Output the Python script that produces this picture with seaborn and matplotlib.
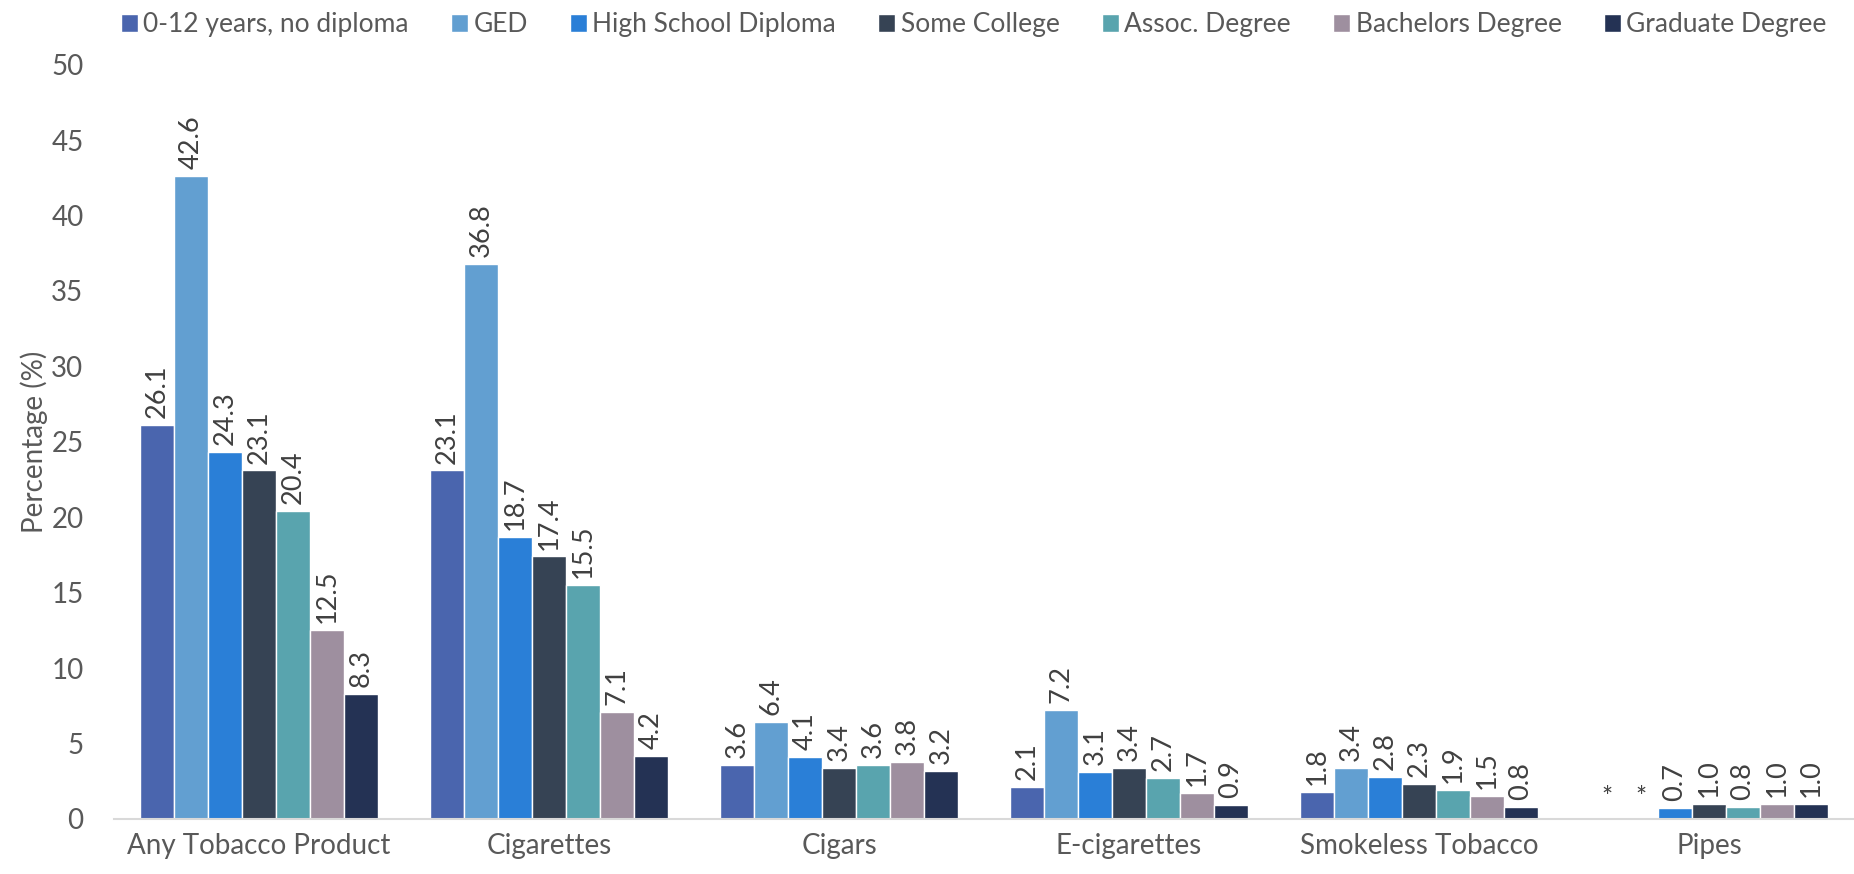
import numpy as np
import pandas as pd
import matplotlib
matplotlib.use("Agg")
import matplotlib.pyplot as plt
import seaborn as sns

products = ["Any Tobacco Product", "Cigarettes", "Cigars", "E-cigarettes",
            "Smokeless Tobacco", "Pipes"]
education = ["0-12 years, no diploma", "GED", "High School Diploma", "Some College",
             "Assoc. Degree", "Bachelors Degree", "Graduate Degree"]

no_diploma = [26.1, 23.1, 3.6, 2.1, 1.8, np.nan]
ged = [42.6, 36.8, 6.4, 7.2, 3.4, np.nan]
hs_diploma = [24.3, 18.7, 4.1, 3.1, 2.8, 0.7]
some_college = [23.1, 17.4, 3.4, 3.4, 2.3, 1.0]
assoc = [20.4, 15.5, 3.6, 2.7, 1.9, 0.8]
bachelors = [12.5, 7.1, 3.8, 1.7, 1.5, 1.0]
graduate = [8.3, 4.2, 3.2, 0.9, 0.8, 1.0]

colors = ["#4A65AE", "#629FD1", "#2A7FD7", "#364354", "#59A4AE", "#9E8F9F", "#243254"]

series = [no_diploma, ged, hs_diploma, some_college, assoc, bachelors, graduate]
rows = []
for level, vals in zip(education, series):
    for prod, v in zip(products, vals):
        rows.append({"product": prod, "education": level, "value": v,
                     "shown": 0.0 if np.isnan(v) else v})
df = pd.DataFrame(rows)

sns.set_theme(style="white")
plt.rcParams["font.family"] = ["Lato", "DejaVu Sans"]
text_col = "#595959"

fig = plt.figure(figsize=(18.54, 8.74), dpi=100)
ax = fig.add_axes([0.0615, 0.063, 0.9385, 0.863])

sns.barplot(data=df, x="product", y="shown", hue="education", order=products,
            hue_order=education, palette=colors, width=0.82, gap=0,
            saturation=1, errorbar=None, ax=ax, legend=True)

# value labels above each bar; missing estimates marked with an asterisk
for level, container in zip(education, ax.containers):
    vals = df[df["education"] == level].set_index("product").loc[products, "value"].values
    for bar, v in zip(container, vals):
        cx = bar.get_x() + bar.get_width() / 2
        if np.isnan(v):
            ax.annotate("*", (cx, 0), xytext=(0, 6), textcoords="offset points",
                        ha="center", va="bottom", fontsize=19, color="#404040")
        else:
            ax.annotate(f"{v:.1f}", (cx, bar.get_height()), xytext=(0, 5),
                        textcoords="offset points", ha="center", va="bottom",
                        rotation=90, fontsize=19.5, color="#404040")

ax.set_ylim(0, 50)
ax.set_xlim(-0.5, len(products) - 0.5)
ax.set_yticks(range(0, 51, 5))
ax.tick_params(axis="y", labelsize=20, colors=text_col, length=0, pad=22)
ax.tick_params(axis="x", labelsize=20, colors=text_col, length=0, pad=10)
ax.set_xlabel("")
ax.set_ylabel("Percentage (%)", fontsize=20, color=text_col, labelpad=2)
for side in ["top", "right", "left"]:
    ax.spines[side].set_visible(False)
ax.spines["bottom"].set_color("#D9D9D9")
ax.spines["bottom"].set_linewidth(1.5)

handles, labels = ax.get_legend_handles_labels()
ax.get_legend().remove()
fig.legend(handles, labels, loc="upper right", bbox_to_anchor=(0.998, 1.013),
           ncol=7, frameon=False, fontsize=19, handlelength=0.65, handleheight=0.65,
           handletextpad=0.2, columnspacing=1.6, labelcolor=text_col)

fig.savefig("out.png", dpi=100)
